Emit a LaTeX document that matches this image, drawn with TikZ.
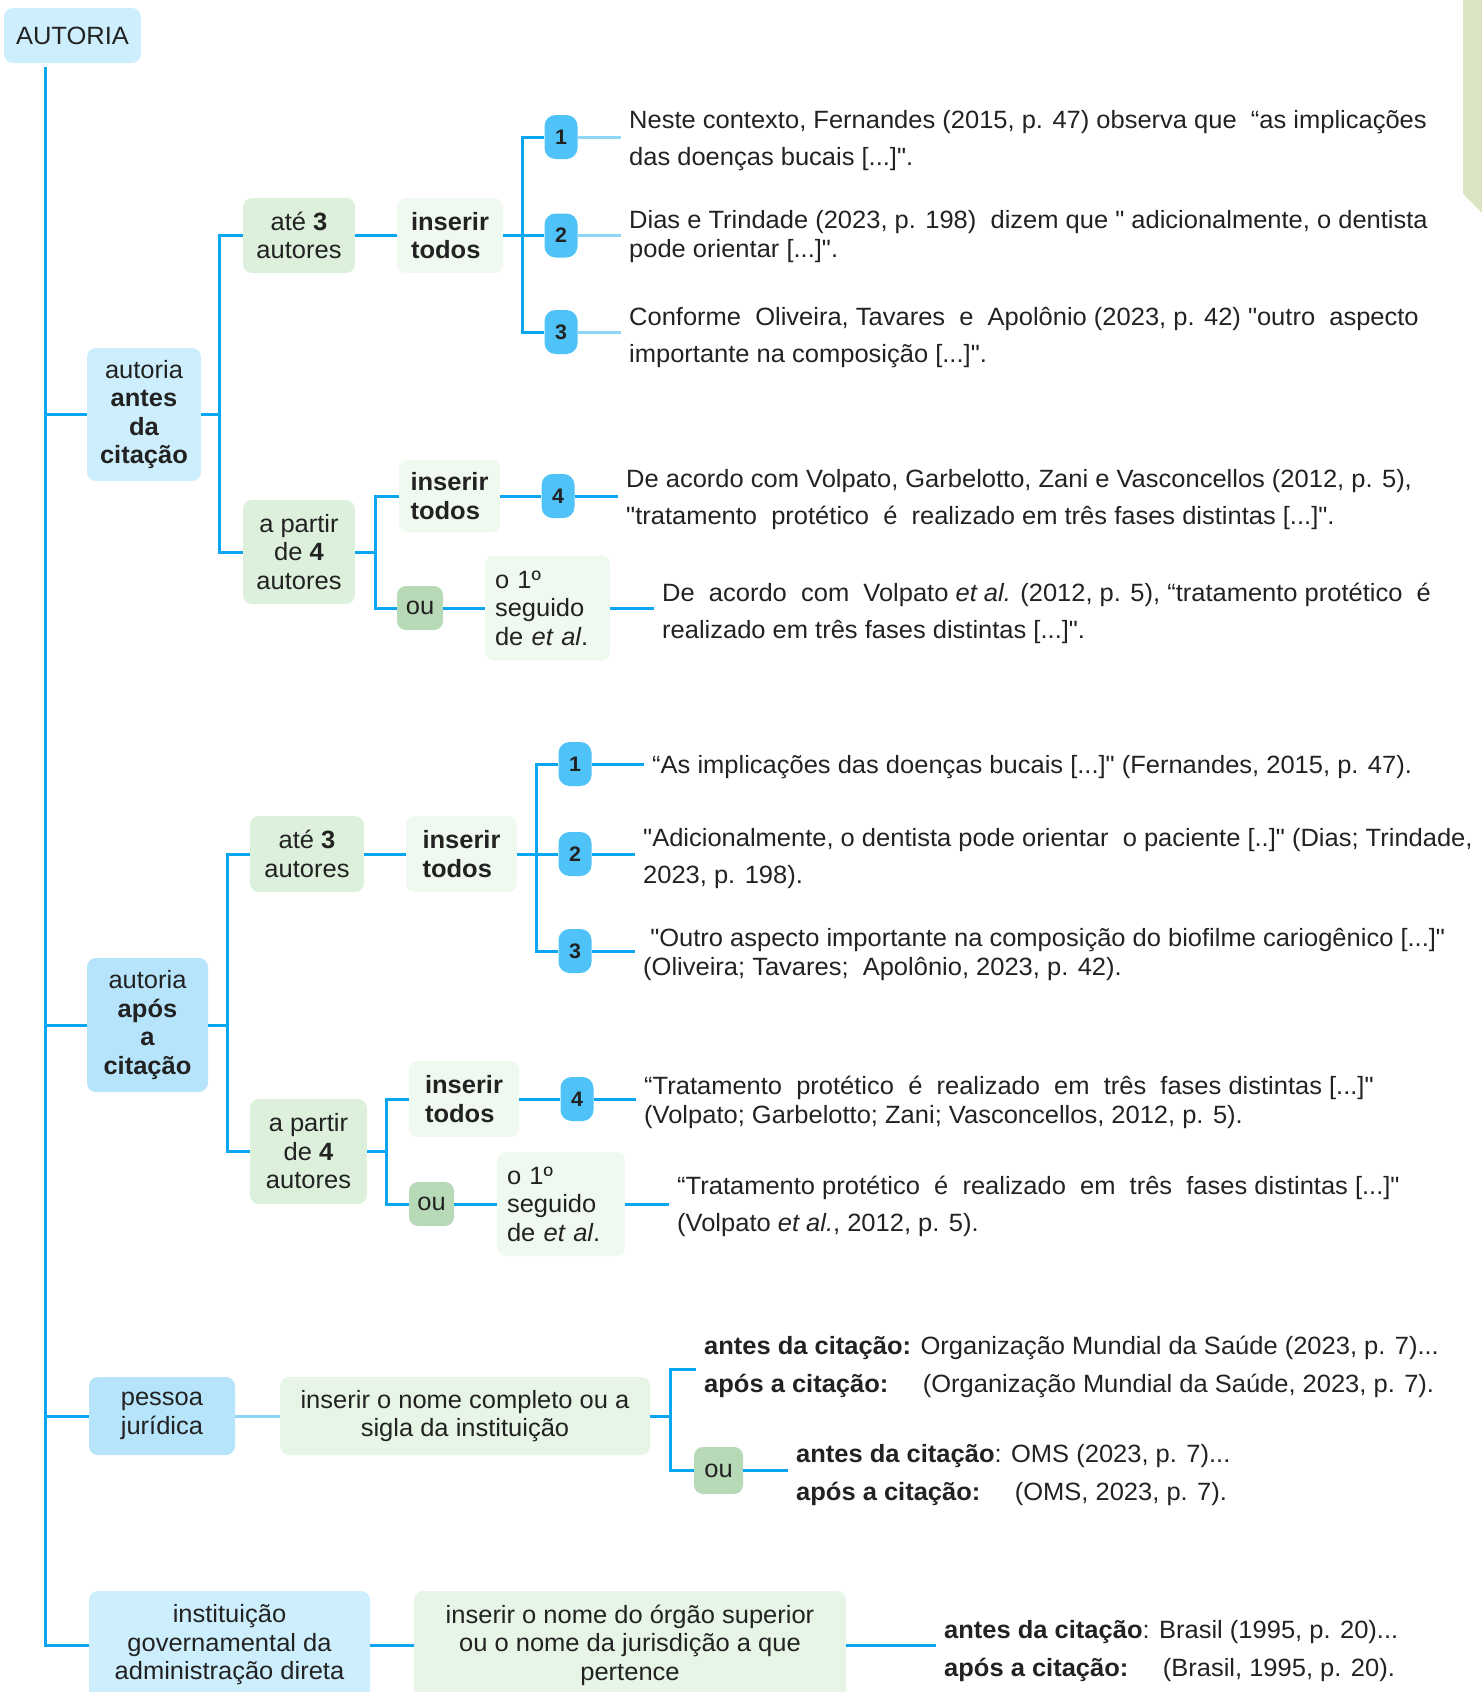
\documentclass[tikz,border=0pt]{standalone}
\usepackage{fontspec}
\setmainfont{Liberation Sans}[FakeStretch=1.02, Ligatures=TeXOff]
\usetikzlibrary{calc}
\definecolor{lineblue}{HTML}{0AA5F0}
\definecolor{lightline}{HTML}{8ED6F8}
\definecolor{boxblue}{HTML}{CDEEFC}
\definecolor{boxblueB}{HTML}{B5E4FB}
\definecolor{badgeblue}{HTML}{4FC3F7}
\definecolor{grA}{HTML}{DCF0DC}
\definecolor{grB}{HTML}{F0F9F0}
\definecolor{grC}{HTML}{E6F5E6}
\definecolor{grOu}{HTML}{B7D9B7}
\definecolor{corner}{HTML}{D9E5C3}
\definecolor{txt}{HTML}{222222}
\begin{document}
\begin{tikzpicture}[x=1pt,y=-1pt,
  every node/.style={text=txt},
  bx/.style={rounded corners=9pt, inner sep=0pt, align=center, font=\fontsize{25}{28.5}\selectfont},
  bxl/.style={bx, align=left},
  etbox/.style={bx, align=left, fill=grB, inner xsep=10pt, text width=#1},
  sz/.style 2 args={minimum width=#1, minimum height=#2},
  badge/.style={fill=badgeblue, rounded corners=11pt, minimum width=33, minimum height=44, inner sep=0pt, font=\bfseries\fontsize{21}{24}\selectfont},
  longt/.style={anchor=west, inner xsep=8pt, inner ysep=0pt, yshift=-3pt, align=left, font=\fontsize{25}{37}\selectfont},
  longs/.style={anchor=west, inner xsep=8pt, inner ysep=0pt, yshift=-3pt, align=left, font=\fontsize{25}{29}\selectfont},
  ln/.style={draw=lineblue, line width=3pt},
  lnl/.style={draw=lightline, line width=3pt}]
\useasboundingbox (0,0) rectangle (1482,1692);
\fill[corner] (1463,0) -- (1482,0) -- (1482,213) -- (1463,194) -- cycle;

% ---------- nodes
\node[bx, fill=boxblue, sz={137}{55}] (root) at (72.5,35.5) {AUTORIA};
\coordinate (trunk) at (45,67);

% branch 1
\node[bx, fill=boxblue, sz={114}{133}] (ant) at (144,414.5) {autoria\\\textbf{antes}\\\textbf{da}\\\textbf{citação}};
\node[bx, fill=grA, sz={112}{75}] (ateA) at (299,235.5) {até \textbf{3}\\autores};
\node[bxl, fill=grB, sz={106}{75}] (insA) at (450,235.5) {\textbf{inserir}\\\textbf{todos}};
\node[badge] (b1) at (561,137) {1};
\node[badge] (b2) at (561,235.5) {2};
\node[badge] (b3) at (561,332) {3};
\node[longt] (t1) at (621,138) {Neste contexto, Fernandes (2015, p. 47) observa que \ “as implicações\\das doenças bucais [...]".};
\node[longs] (t2) at (621,234) {Dias e Trindade (2023, p. 198) \ dizem que " adicionalmente, o dentista\\pode orientar [...]".};
\node[longt] (t3) at (621,335) {Conforme \ Oliveira, Tavares \ e \ Apolônio (2023, p. 42) "outro \ aspecto\\importante na composição [...]".};

\node[bx, fill=grA, sz={112}{104}] (apA) at (299,552) {a partir\\de \textbf{4}\\autores};
\node[bxl, fill=grB, sz={101}{73}] (insB) at (449.5,496) {\textbf{inserir}\\\textbf{todos}};
\node[badge] (b4) at (558,496) {4};
\node[longt] (t4) at (618,497) {De acordo com Volpato, Garbelotto, Zani e Vasconcellos (2012, p. 5),\\"tratamento \ protético \ é \ realizado em três fases distintas [...]".};
\node[bx, fill=grOu, sz={46}{44}] (ouA) at (420,608) {ou};
\node[etbox=105, sz={125}{105}] (etA) at (547.5,608) {o 1º\\seguido\\de \textit{et al}.};
\node[longt] (t5) at (654,610) {De \ acordo \ com \ Volpato \textit{et al.} (2012, p. 5), “tratamento protético \ é\\realizado em três fases distintas [...]".};

% branch 2
\node[bx, fill=boxblueB, sz={121}{134}] (apos) at (147.5,1025) {autoria\\\textbf{após}\\\textbf{a}\\\textbf{citação}};
\node[bx, fill=grA, sz={114}{76}] (ateB) at (307,854) {até \textbf{3}\\autores};
\node[bxl, fill=grB, sz={111}{76}] (insC) at (461.5,854) {\textbf{inserir}\\\textbf{todos}};
\node[badge] (b5) at (575,764) {1};
\node[badge] (b6) at (575,854) {2};
\node[badge] (b7) at (575,951) {3};
\node[longs] (t6) at (644,764) {“As implicações das doenças bucais [...]" (Fernandes, 2015, p. 47).};
\node[longt] (t7) at (635,856) {"Adicionalmente, o dentista pode orientar \ o paciente [..]" (Dias; Trindade,\\2023, p. 198).};
\node[longs] (t8) at (635,951) {\ "Outro aspecto importante na composição do biofilme cariogênico [...]"\\(Oliveira; Tavares; \ Apolônio, 2023, p. 42).};

\node[bx, fill=grA, sz={117}{105}] (apB) at (308.5,1151.5) {a partir\\de \textbf{4}\\autores};
\node[bxl, fill=grB, sz={110}{76}] (insD) at (464,1099) {\textbf{inserir}\\\textbf{todos}};
\node[badge] (b8) at (577,1099) {4};
\node[longs] (t9) at (636,1099) {“Tratamento \ protético \ é \ realizado \ em \ três \ fases distintas [...]"\\(Volpato; Garbelotto; Zani; Vasconcellos, 2012, p. 5).};
\node[bx, fill=grOu, sz={45}{44}] (ouB) at (431.5,1204) {ou};
\node[etbox=108, sz={128}{104}] (etB) at (561,1204) {o 1º\\seguido\\de \textit{et al}.};
\node[longt] (t10) at (669,1203) {“Tratamento protético \ é \ realizado \ em \ três \ fases distintas [...]"\\(Volpato \textit{et al.}, 2012, p. 5).};

% branch 3
\node[bx, fill=boxblueB, sz={146}{78}] (pj) at (162,1416) {pessoa\\jurídica};
\node[bx, fill=grC, sz={370}{78}] (insE) at (465,1416) {inserir o nome completo ou a\\sigla da instituição};
\node[longt, font=\fontsize{25}{38}\selectfont] (t11) at (696,1364) {\textbf{antes da citação:} Organização Mundial da Saúde (2023, p. 7)...\\\textbf{após a citação:} \quad(Organização Mundial da Saúde, 2023, p. 7).};
\node[bx, fill=grOu, sz={49}{47}] (ouC) at (718.5,1470.5) {ou};
\node[longt, font=\fontsize{25}{38}\selectfont] (t12) at (788,1472) {\textbf{antes da citação}: OMS (2023, p. 7)...\\\textbf{após a citação:} \quad(OMS, 2023, p. 7).};

% branch 4
\node[bx, fill=boxblue, sz={281}{108}] (inst) at (229.5,1645) {instituição\\governamental da\\administração direta};
\node[bx, fill=grC, sz={432}{108}] (insF) at (630,1645) {inserir o nome do órgão superior\\ou o nome da jurisdição a que\\pertence};
\node[longt, font=\fontsize{25}{38}\selectfont] (t13) at (936,1648) {\textbf{antes da citação}: Brasil (1995, p. 20)...\\\textbf{após a citação:} \quad(Brasil, 1995, p. 20).};

% ---------- connectors
\draw[ln] (trunk) |- (inst.west);
\draw[ln] (trunk |- ant.west) -- (ant.west);
\draw[ln] (trunk |- apos.west) -- (apos.west);
\draw[ln] (trunk |- pj.west) -- (pj.west);

% branch 1
\draw[ln] (ant.east) -- ++(18,0) coordinate (j1);
\draw[ln] (j1) |- (ateA.west);
\draw[ln] (j1) |- (apA.west);
\draw[ln] (ateA.east) -- (insA.west);
\draw[ln] (insA.east) -- ++(19,0) coordinate (j2);
\draw[ln] (j2) |- (b1.west);
\draw[ln] (j2) |- (b3.west);
\draw[ln] (j2) -- (b2.west);
\draw[lnl] (b1.east) -- (b1.east -| t1.west);
\draw[lnl] (b2.east) -- (b2.east -| t2.west);
\draw[lnl] (b3.east) -- (b3.east -| t3.west);
\draw[ln] (apA.east) -- ++(20,0) coordinate (j3);
\draw[ln] (j3) |- (insB.west);
\draw[ln] (j3) |- (ouA.west);
\draw[ln] (insB.east) -- (b4.west);
\draw[ln] (b4.east) -- (b4.east -| t4.west);
\draw[ln] (ouA.east) -- (ouA.east -| etA.west);
\draw[ln] (etA.east) -- (etA.east -| t5.west);

% branch 2
\draw[ln] (apos.east) -- ++(19,0) coordinate (j4);
\draw[ln] (j4) |- (ateB.west);
\draw[ln] (j4) |- (apB.west);
\draw[ln] (ateB.east) -- (insC.west);
\draw[ln] (insC.east) -- ++(19,0) coordinate (j5);
\draw[ln] (j5) |- (b5.west);
\draw[ln] (j5) |- (b7.west);
\draw[ln] (j5) -- (b6.west);
\draw[ln] (b5.east) -- (b5.east -| t6.west);
\draw[ln] (b6.east) -- (b6.east -| t7.west);
\draw[ln] (b7.east) -- (b7.east -| t8.west);
\draw[ln] (apB.east) -- ++(19,0) coordinate (j6);
\draw[ln] (j6) |- (insD.west);
\draw[ln] (j6) |- (ouB.west);
\draw[ln] (insD.east) -- (b8.west);
\draw[ln] (b8.east) -- (b8.east -| t9.west);
\draw[ln] (ouB.east) -- (ouB.east -| etB.west);
\draw[ln] (etB.east) -- (etB.east -| t10.west);

% branch 3
\draw[lnl] (pj.east) -- (insE.west);
\draw[ln] (insE.east) -- ++(20,0) coordinate (j7);
\draw[ln] (j7) |- ([yshift=-2]t11.west);
\draw[ln] (j7) |- (ouC.west);
\draw[ln] (ouC.east) -- (ouC.east -| t12.west);

% branch 4
\draw[ln] (inst.east) -- (insF.west);
\draw[ln] (insF.east) -- (insF.east -| t13.west);
\end{tikzpicture}
\end{document}
